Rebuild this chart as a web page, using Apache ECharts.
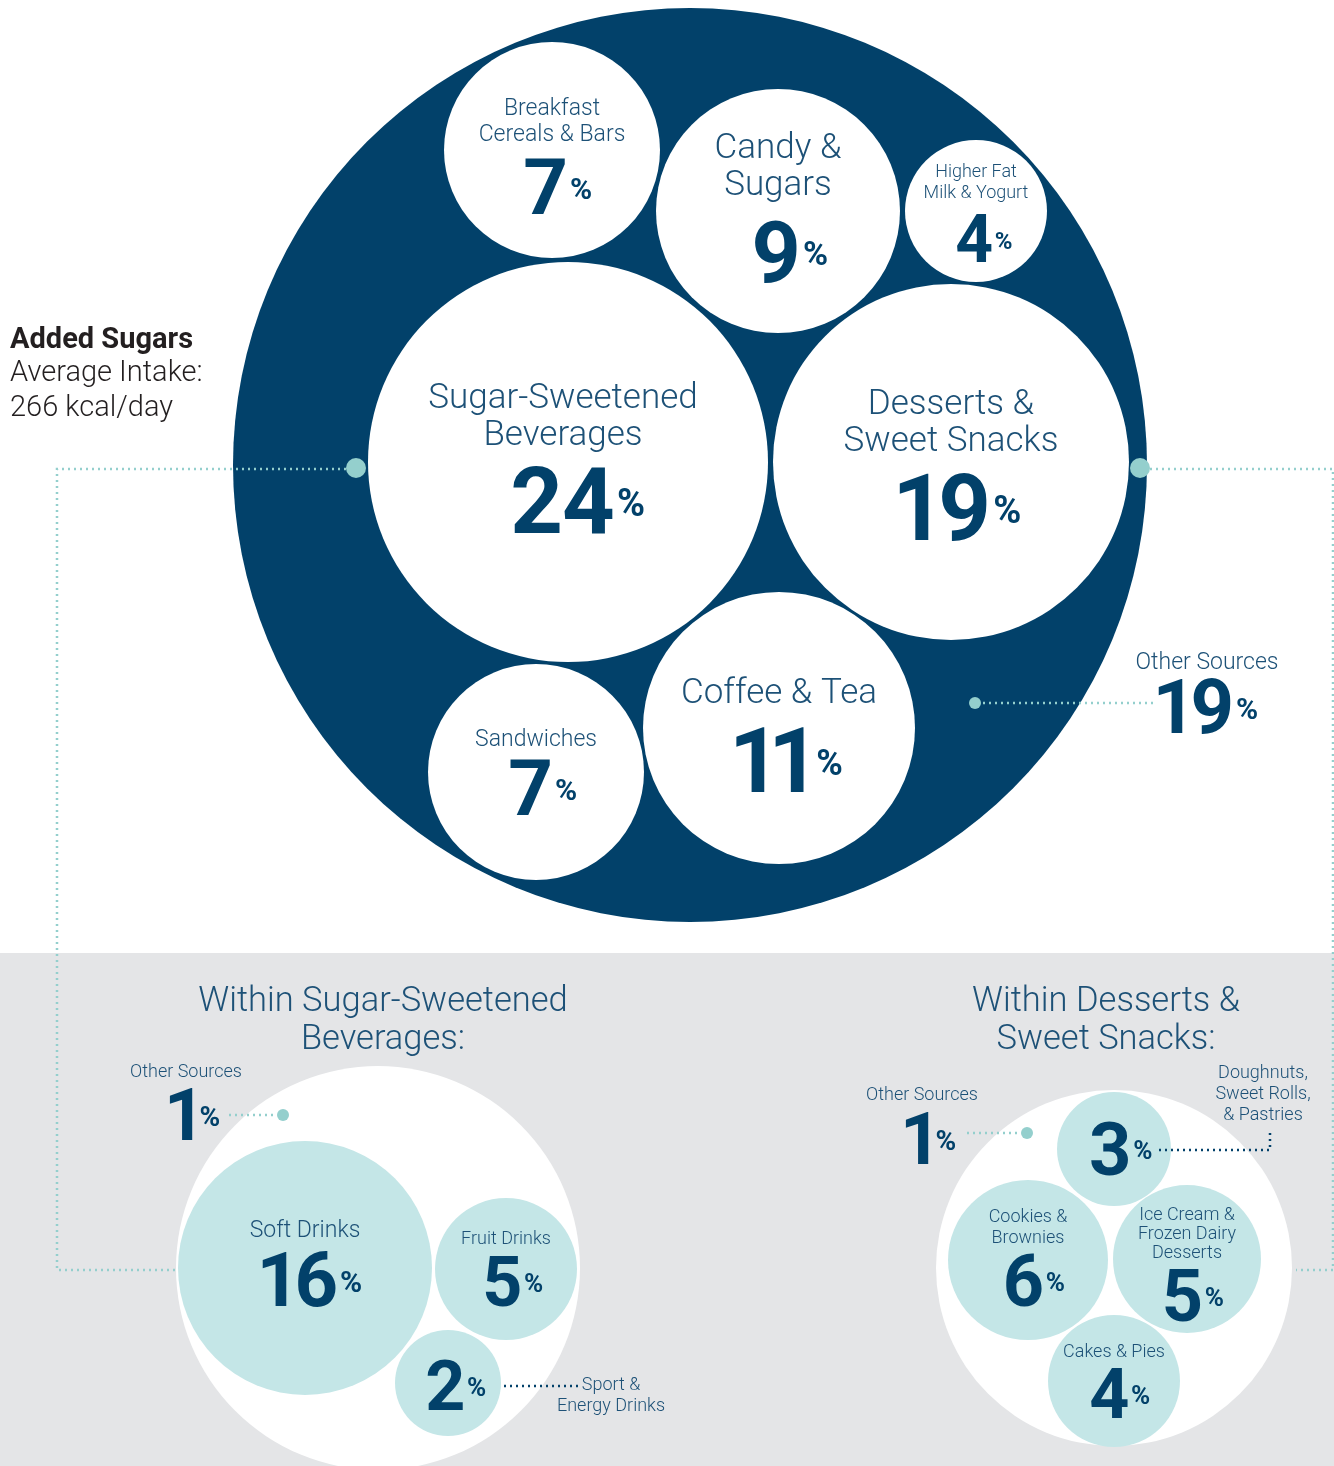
<!DOCTYPE html>
<html><head><meta charset="utf-8">
<script src="https://cdn.jsdelivr.net/npm/echarts@6/dist/echarts.min.js"></script>
<style>html,body{margin:0;padding:0;background:#fff}#c{width:1334px;height:1466px}</style>
</head><body><div id="c"></div>
<script>
// ---------------- DATA ----------------
const intakeTitle = 'Added Sugars';
const intakeLines = ['Average Intake:', '266 kcal/day'];

const topCategories = ['Sugar-Sweetened\nBeverages', 'Desserts &\nSweet Snacks', 'Coffee & Tea', 'Candy &\nSugars',
  'Breakfast\nCereals & Bars', 'Sandwiches', 'Higher Fat\nMilk & Yogurt', 'Other Sources'];
const topValues = [24, 19, 11, 9, 7, 7, 4, 19];

const ssbTitle = 'Within Sugar-Sweetened\nBeverages:';
const ssbCategories = ['Soft Drinks', 'Fruit Drinks', 'Sport &\nEnergy Drinks', 'Other Sources'];
const ssbValues = [16, 5, 2, 1];

const dssTitle = 'Within Desserts &\nSweet Snacks:';
const dssCategories = ['Cookies &\nBrownies', 'Ice Cream &\nFrozen Dairy\nDesserts', 'Cakes & Pies',
  'Doughnuts,\nSweet Rolls,\n& Pastries', 'Other Sources'];
const dssValues = [6, 5, 4, 3, 1];

// ---------------- LAYOUT (positions / sizes, not data) ----------------
const NAVY = '#02416a', LABEL = '#1d5177', TEAL = '#94cfcd', LIGHT = '#c4e6e7', GRAY = '#e4e5e7', INK = '#231f20';
const FONT = 'Roboto';

const topLayout = [
  {cx:568, cy:462, r:200, lx:563, ly:414, ls:35, lh:37, nx:578, ny:500, ns:92, ps:38},
  {cx:951, cy:462, r:178, lx:951, ly:420, ls:35, lh:37, nx:960, ny:507, ns:92, ps:38},
  {cx:779, cy:728, r:136, lx:779, ly:691, ls:35, lh:37, nx:789, ny:760, ns:90, ps:36},
  {cx:778, cy:211, r:122, lx:778, ly:164, ls:35, lh:37, nx:790, ny:251, ns:86, ps:34},
  {cx:552, cy:150, r:108, lx:552, ly:120, ls:23, lh:26, nx:558, ny:186, ns:78, ps:30},
  {cx:536, cy:772, r:108, lx:536, ly:738, ls:23, lh:26, nx:543, ny:787, ns:78, ps:30},
  {cx:976, cy:211, r:71,  lx:976, ly:181, ls:18, lh:21, nx:984, ny:238, ns:66, ps:24},
  {lx:1207, ly:661, ls:23, lh:26, nx:1208, ny:706, ns:76, ps:30, dot:[975,703,6], line:[[983,703],[1153,703]], lineColor:TEAL}
];
const ssbLayout = [
  {cx:305, cy:1268, r:127, lx:305, ly:1229, ls:23, lh:26, nx:312, ny:1279, ns:76, ps:30},
  {cx:506, cy:1269, r:71,  lx:506, ly:1238, ls:18, lh:21, nx:513, ny:1281, ns:70, ps:26},
  {cx:448, cy:1383, r:53,  lx:611, ly:1394, ls:18, lh:21, nx:456, ny:1385, ns:70, ps:26, line:[[504,1386],[578,1386]], lineColor:NAVY},
  {lx:186, ly:1071, ls:18, lh:21, nx:196, ny:1114, ns:72, ps:28, dot:[283,1115,6], line:[[229,1115],[276,1115]], lineColor:TEAL}
];
const dssLayout = [
  {cx:1028, cy:1260, r:80, lx:1028, ly:1226, ls:18, lh:21, nx:1034, ny:1280, ns:72, ps:26},
  {cx:1187, cy:1259, r:74, lx:1187, ly:1233, ls:18, lh:19, nx:1193, ny:1295, ns:72, ps:26},
  {cx:1114, cy:1381, r:66, lx:1114, ly:1351, ls:18, lh:21, nx:1120, ny:1393, ns:70, ps:26},
  {cx:1114, cy:1149, r:57, lx:1263, ly:1093, ls:18, lh:21, nx:1121, ny:1148, ns:74, ps:26, line:[[1159,1150],[1270,1150],[1270,1133]], lineColor:NAVY},
  {lx:922, ly:1094, ls:18, lh:21, nx:932, ny:1138, ns:72, ps:28, dot:[1027,1133,6], line:[[967,1133],[1020,1133]], lineColor:TEAL}
];
const frame = {
  panelTop: 953,
  outer: {cx:690, cy:465, r:457},
  ssbContainer: {cx:378, cy:1268, r:202},
  dssContainer: {cx:1114, cy:1268, r:178},
  ssbTitle: {x:383, y:1021}, dssTitle: {x:1106, y:1021},
  intake: {x:10, y:341},
  leftConnector: [[346,469],[57,469],[57,1270],[175,1270]], leftDot:[356,468,10],
  rightConnector: [[1150,469],[1333,469],[1333,1270],[1296,1270]], rightDot:[1140,468,10]
};

// ---------------- BUILD ITEMS ----------------
const bubbles = [];
topCategories.forEach((n, i) => bubbles.push(Object.assign({name:n, value:topValues[i], fill:'#fff'}, topLayout[i])));
ssbCategories.forEach((n, i) => bubbles.push(Object.assign({name:n, value:ssbValues[i], fill:LIGHT}, ssbLayout[i])));
dssCategories.forEach((n, i) => bubbles.push(Object.assign({name:n, value:dssValues[i], fill:LIGHT}, dssLayout[i])));

const mctx = document.createElement('canvas').getContext('2d');
function measure(ch, size) { mctx.font = 'bold ' + size + 'px ' + FONT; return mctx.measureText(ch).width; }

function P(api, x, y) { return api.coord([x, y]); }
function R(api, r) { return api.size([r, r])[0]; }

function dotted(api, pts, color, w) {
  return {type:'polyline', shape:{points: pts.map(p => P(api, p[0], p[1]))},
    style:{stroke:color, lineWidth:w || 2.5, lineDash:[2, 4], fill:null}};
}

function numberEls(api, b) {
  const chars = String(b.value).split('');
  const oneFactor = chars.length === 1 ? 0.62 : 0.76;
  const ws = chars.map(c => measure(c, b.ns) * (c === '1' ? oneFactor : 0.98));
  const pw = measure('%', b.ps);
  const gap = b.ns * 0.03;
  const total = ws.reduce((a, c) => a + c, 0) + gap + pw;
  let x = b.nx - total / 2;
  const els = [];
  chars.forEach((c, i) => {
    const p = P(api, x + ws[i] / 2, b.ny + b.ns * 0.11);
    els.push({type:'text', x:p[0], y:p[1], style:{text:c, fontFamily:FONT, fontWeight:'bold', fontSize:b.ns, fill:NAVY, align:'center', verticalAlign:'middle'}});
    x += ws[i];
  });
  x += gap;
  const pp = P(api, x + pw / 2, b.ny + b.ps * 0.11 + 2);
  els.push({type:'text', x:pp[0], y:pp[1], style:{text:'%', fontFamily:FONT, fontWeight:'bold', fontSize:b.ps, fill:NAVY, align:'center', verticalAlign:'middle'}});
  return els;
}

const chart = echarts.init(document.getElementById('c'), null, {renderer:'canvas'});
chart.setOption({
  animation:false,
  backgroundColor:'#ffffff',
  grid:{left:0, right:0, top:0, bottom:0},
  xAxis:{type:'value', min:0, max:1334, show:false},
  yAxis:{type:'value', min:0, max:1466, inverse:true, show:false},
  series:[
    { // background frame
      type:'custom', data:[[0]], silent:true,
      renderItem:(params, api) => {
        const a = P(api, 0, frame.panelTop), b = P(api, 1334, 1466);
        const o = frame.outer, s = frame.ssbContainer, d = frame.dssContainer;
        const so = P(api, o.cx, o.cy), ss = P(api, s.cx, s.cy), sd = P(api, d.cx, d.cy);
        const ip = P(api, frame.intake.x, frame.intake.y);
        const t1 = P(api, frame.ssbTitle.x, frame.ssbTitle.y), t2 = P(api, frame.dssTitle.x, frame.dssTitle.y);
        return {type:'group', children:[
          {type:'rect', shape:{x:a[0], y:a[1], width:b[0]-a[0], height:b[1]-a[1]}, style:{fill:GRAY}},
          {type:'circle', shape:{cx:so[0], cy:so[1], r:R(api, o.r)}, style:{fill:NAVY}},
          {type:'circle', shape:{cx:ss[0], cy:ss[1], r:R(api, s.r)}, style:{fill:'#fff'}},
          {type:'circle', shape:{cx:sd[0], cy:sd[1], r:R(api, d.r)}, style:{fill:'#fff'}},
          {type:'text', x:ip[0], y:ip[1], style:{text:intakeTitle, fontFamily:FONT, fontWeight:'bold', fontSize:29, fill:INK, align:'left', verticalAlign:'middle'}},
          {type:'text', x:ip[0], y:ip[1]+50, style:{text:intakeLines.join('\n'), fontFamily:FONT, fontWeight:300, fontSize:29, lineHeight:35, fill:INK, align:'left', verticalAlign:'middle'}},
          {type:'text', x:t1[0], y:t1[1], style:{text:ssbTitle, fontFamily:FONT, fontWeight:300, fontSize:34.5, lineHeight:38, fill:LABEL, align:'center', verticalAlign:'middle'}},
          {type:'text', x:t2[0], y:t2[1], style:{text:dssTitle, fontFamily:FONT, fontWeight:300, fontSize:34.5, lineHeight:38, fill:LABEL, align:'center', verticalAlign:'middle'}}
        ]};
      }
    },
    { // bubbles
      type:'custom', data:bubbles.map((b, i) => [i]),
      renderItem:(params, api) => {
        const b = bubbles[params.dataIndex];
        if (!b.r) return {type:'group', children:[]};
        const c = P(api, b.cx, b.cy);
        return {type:'circle', shape:{cx:c[0], cy:c[1], r:R(api, b.r)}, style:{fill:b.fill}};
      }
    },
    { // connectors
      type:'custom', data:[[0]], silent:true,
      renderItem:(params, api) => {
        const ch = [dotted(api, frame.leftConnector, TEAL), dotted(api, frame.rightConnector, TEAL)];
        bubbles.forEach(b => { if (b.line) ch.push(dotted(api, b.line, b.lineColor, 2.5)); });
        const l = P(api, frame.leftDot[0], frame.leftDot[1]), r = P(api, frame.rightDot[0], frame.rightDot[1]);
        ch.push({type:'circle', shape:{cx:l[0], cy:l[1], r:frame.leftDot[2]}, style:{fill:TEAL}});
        ch.push({type:'circle', shape:{cx:r[0], cy:r[1], r:frame.rightDot[2]}, style:{fill:TEAL}});
        return {type:'group', children:ch};
      }
    },
    { // labels & values
      type:'custom', data:bubbles.map((b, i) => [i]), silent:true,
      renderItem:(params, api) => {
        const b = bubbles[params.dataIndex];
        const ch = [];
        if (b.dot) {
          const c = P(api, b.dot[0], b.dot[1]);
          ch.push({type:'circle', shape:{cx:c[0], cy:c[1], r:b.dot[2]}, style:{fill:TEAL}});
        }
        const lp = P(api, b.lx, b.ly + b.ls * 0.1);
        ch.push({type:'text', x:lp[0], y:lp[1], style:{text:b.name, fontFamily:FONT, fontWeight:300, fontSize:b.ls, lineHeight:b.lh,
          fill:LABEL, align:'center', verticalAlign:'middle'}});
        return {type:'group', children:ch.concat(numberEls(api, b))};
      }
    }
  ]
});
</script>
</body></html>
